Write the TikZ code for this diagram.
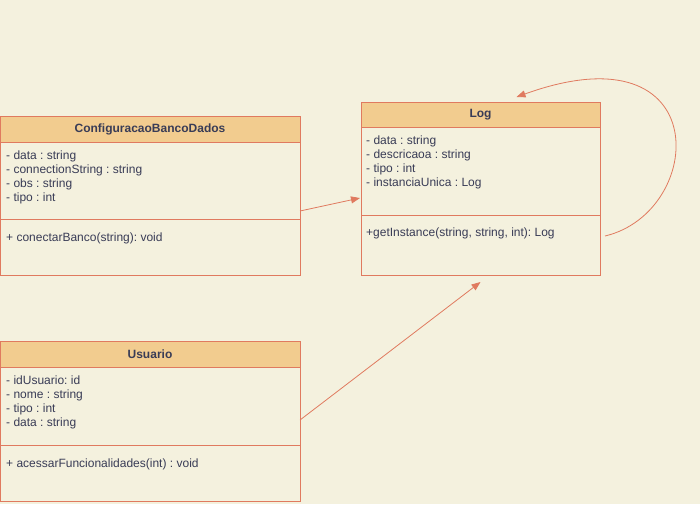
\documentclass[tikz,border=0pt]{standalone}
\usepackage{fontspec}
\setmainfont{Liberation Sans}
\usetikzlibrary{positioning,arrows.meta,calc}

\definecolor{bgcol}{HTML}{F4F1DE}
\definecolor{headcol}{HTML}{F2CC8F}
\definecolor{linecol}{HTML}{E07A5F}
\definecolor{textcol}{HTML}{393C56}

\tikzset{
  classhead/.style={draw=linecol, fill=headcol, line width=1pt, inner sep=0pt, outer sep=0pt,
    text=textcol, font=\fontsize{12}{14}\selectfont\bfseries},
  classpart/.style={draw=linecol, line width=1pt, inner sep=0pt, outer sep=0pt},
  members/.style={anchor=north west, inner sep=0pt, align=left, text=textcol,
    font=\fontsize{12}{14}\selectfont\frenchspacing},
  assoc/.style={draw=linecol, line width=0.8pt, -{Triangle[length=9pt,width=7pt]}},
}

\begin{document}
\begin{tikzpicture}[x=1pt,y=-1pt]

  \fill[bgcol] (0,0) rectangle (700,504);
  \useasboundingbox (0,0) rectangle (700,504);

  % ConfiguracaoBancoDados
  \node[classhead, minimum width=300pt, minimum height=26pt, anchor=north west] (cfghead) at (0,116) {ConfiguracaoBancoDados};
  \node[classpart, minimum width=300pt, minimum height=77pt] (cfgattr) [below=0pt of cfghead] {};
  \node[classpart, minimum width=300pt, minimum height=56pt] (cfgmeth) [below=0pt of cfgattr] {};
  \node[members] (cfgattrtxt) at ($(cfgattr.north west)+(6,9)$) {- data : string\\- connectionString : string\\- obs : string\\- tipo : int};
  \node[members] (cfgmethtxt) at ($(cfgmeth.north west)+(6,14)$) {+ conectarBanco(string): void};

  % Log
  \node[classhead, minimum width=239pt, minimum height=25pt, anchor=north west] (loghead) at (361,102) {Log};
  \node[classpart, minimum width=239pt, minimum height=88pt] (logattr) [below=0pt of loghead] {};
  \node[classpart, minimum width=239pt, minimum height=60pt] (logmeth) [below=0pt of logattr] {};
  \node[members] (logattrtxt) at ($(logattr.north west)+(5,9)$) {- data : string\\- descricaoa : string\\- tipo : int\\- instanciaUnica : Log};
  \node[members] (logmethtxt) at ($(logmeth.north west)+(5,13)$) {+getInstance(string, string, int): Log};

  % Usuario
  \node[classhead, minimum width=300pt, minimum height=26pt, anchor=north west] (usrhead) at (0,341) {Usuario};
  \node[classpart, minimum width=300pt, minimum height=78pt] (usrattr) [below=0pt of usrhead] {};
  \node[classpart, minimum width=300pt, minimum height=56pt] (usrmeth) [below=0pt of usrattr] {};
  \node[members] (usrattrtxt) at ($(usrattr.north west)+(6,9)$) {- idUsuario: id\\- nome : string\\- tipo : int\\- data : string};
  \node[members] (usrmethtxt) at ($(usrmeth.north west)+(6,14)$) {+ acessarFuncionalidades(int) : void};

  % connectors
  \path[assoc] ($(cfgattr.south east)+(0,-8)$) -- ($(logattr.west)+(-1,27)$);
  \path[assoc] ($(usrattr.south east)+(0,-25)$) -- ($(logmeth.south)+(0,7)$);
  \path[assoc] ($(logmeth.east)+(5,-9)$) .. controls (706,212) and (716,25) .. ($(loghead.north)+(36,-5)$);

\end{tikzpicture}
\end{document}
